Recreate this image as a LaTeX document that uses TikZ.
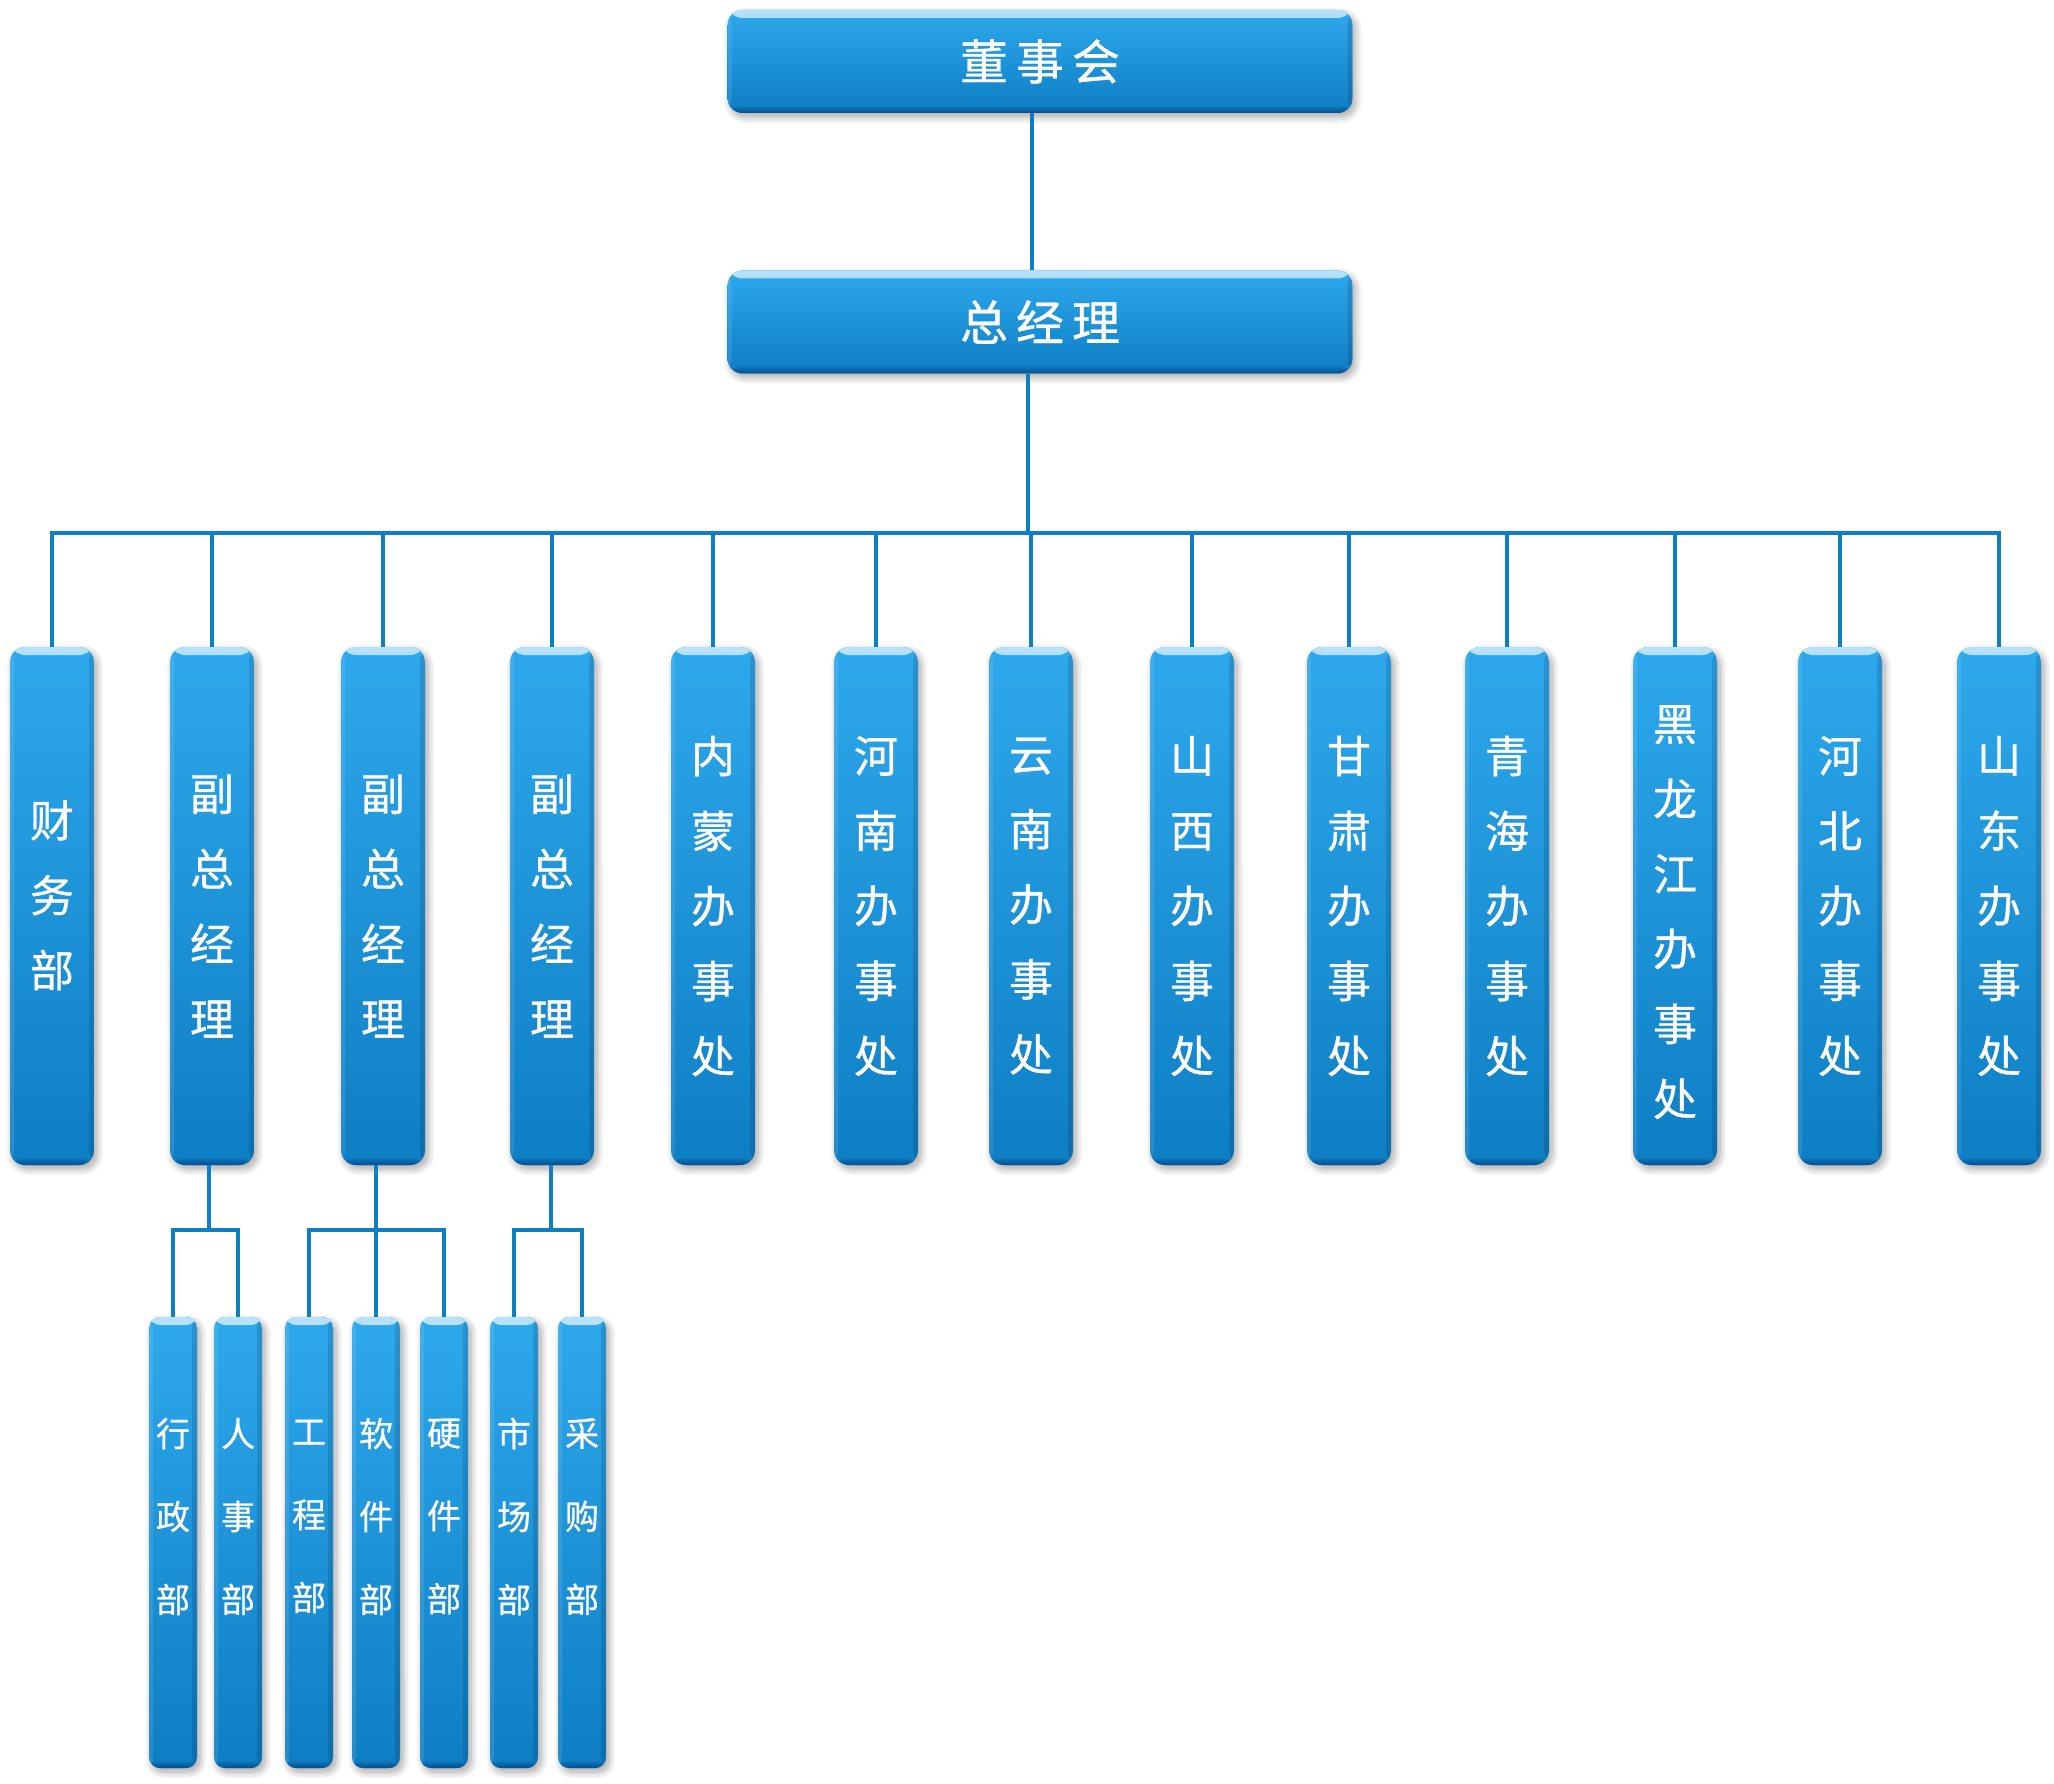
\documentclass[tikz,border=0pt]{standalone}
\usepackage{fontspec}
\newfontfamily\cjk[FakeBold=0.7]{Noto Sans CJK SC}
\usetikzlibrary{shadows.blur}
\definecolor{bodytop}{HTML}{2EA8EC}
\definecolor{bodybot}{HTML}{0E7EC4}
\definecolor{hl}{HTML}{B8E2F9}
\definecolor{edgedark}{HTML}{034E8E}
\definecolor{conncol}{HTML}{0D80C4}
\newcommand\vshift[2]{\raisebox{#1}[\height][\depth]{\begin{tabular}{@{}c@{}}#2\end{tabular}}}
\tikzset{
  bevel/.style={path picture={
    \shade[top color=hl, bottom color=bodytop]
      (path picture bounding box.north west) rectangle ([yshift=-8pt]path picture bounding box.north east);
    \shade[top color=bodybot, bottom color=edgedark]
      ([yshift=8pt]path picture bounding box.south west) rectangle (path picture bounding box.south east);
    \fill[white, opacity=0.10]
      (path picture bounding box.south west) rectangle ([xshift=4pt]path picture bounding box.north west);
    \fill[black, opacity=0.12]
      ([xshift=-5pt]path picture bounding box.south east) rectangle (path picture bounding box.north east);
  }},
  orgbox/.style={rounded corners=15pt, top color=bodytop, bottom color=bodybot,
    draw=none, inner sep=0pt, text=white, align=center,
    blur shadow={shadow xshift=3pt, shadow yshift=-4pt, shadow blur radius=7pt,
      shadow blur steps=10, shadow opacity=35},
    bevel},
  topbox/.style={orgbox, minimum width=625pt, minimum height=103pt,
    font=\cjk\fontsize{48}{58}\selectfont},
  tallbox/.style={orgbox, minimum width=84pt, minimum height=518pt,
    font=\cjk\fontsize{44}{75}\selectfont},
  smallbox/.style={orgbox, rounded corners=11pt, minimum width=48pt, minimum height=451pt},
  smalltext/.style={text=white, align=center, inner sep=0pt,
    font=\cjk\fontsize{34}{83}\selectfont},
  conn/.style={draw=conncol, line width=4.6pt},
}
\begin{document}
\begin{tikzpicture}[x=1pt, y=-1pt]
\useasboundingbox (0,0) rectangle (2054,1784);
% top level
\node[topbox] (dsh) at (1040,61.5) {董\hspace{8pt}事\hspace{8pt}会};
\node[topbox] (zjl) at (1040,322) {总\hspace{8pt}经\hspace{8pt}理};
% second level
\node[tallbox] (t1)  at (52,906)   {\vshift{9pt}{财\\务\\部}};
\node[tallbox] (t2)  at (212,906)  {副\\总\\经\\理};
\node[tallbox] (t3)  at (383,906)  {副\\总\\经\\理};
\node[tallbox] (t4)  at (552,906)  {副\\总\\经\\理};
\node[tallbox] (t5)  at (713,906)  {内\\蒙\\办\\事\\处};
\node[tallbox] (t6)  at (876,906)  {河\\南\\办\\事\\处};
\node[tallbox] (t7)  at (1031,906) {云\\南\\办\\事\\处};
\node[tallbox] (t8)  at (1192,906) {山\\西\\办\\事\\处};
\node[tallbox] (t9)  at (1349,906) {甘\\肃\\办\\事\\处};
\node[tallbox] (t10) at (1507,906) {青\\海\\办\\事\\处};
\node[tallbox] (t11) at (1675,906) {\vshift{-7pt}{黑\\龙\\江\\办\\事\\处}};
\node[tallbox] (t12) at (1840,906) {河\\北\\办\\事\\处};
\node[tallbox] (t13) at (1999,906) {山\\东\\办\\事\\处};
% third level
\node[smallbox] (a1) at (173,1542.5) {};
\node[smallbox] (a2) at (238,1542.5) {};
\node[smallbox] (a3) at (309,1542.5) {};
\node[smallbox] (a4) at (376,1542.5) {};
\node[smallbox] (a5) at (444,1542.5) {};
\node[smallbox] (a6) at (514,1542.5) {};
\node[smallbox] (a7) at (582,1542.5) {};
\node[smalltext] (a1t) at ([yshift=26pt]a1.center) {行\\政\\部};
\node[smalltext] (a2t) at ([yshift=26pt]a2.center) {人\\事\\部};
\node[smalltext] (a3t) at ([yshift=26pt]a3.center) {工\\程\\部};
\node[smalltext] (a4t) at ([yshift=26pt]a4.center) {软\\件\\部};
\node[smalltext] (a5t) at ([yshift=26pt]a5.center) {硬\\件\\部};
\node[smalltext] (a6t) at ([yshift=26pt]a6.center) {市\\场\\部};
\node[smalltext] (a7t) at ([yshift=26pt]a7.center) {采\\购\\部};
% connectors
\coordinate (bus) at (1028,533);
\coordinate (s1) at (209,1230);
\coordinate (s2) at (376,1230);
\coordinate (s3) at (551,1230);
\draw[conn] ([xshift=-8pt]dsh.south) -- ([xshift=-8pt]zjl.north);
\draw[conn] ([xshift=-12pt]zjl.south) -- (bus);
\draw[conn] (t1.north) |- (bus) -| (t13.north);
\foreach \i in {2,...,12} {
  \draw[conn] (t\i.north) -- (t\i.north |- bus);
}
\draw[conn] (s1) -- (s1 |- t2.south);
\draw[conn] (a1.north) |- (s1) -| (a2.north);
\draw[conn] (a4.north) -- (a4.north |- t3.south);
\draw[conn] (a3.north) |- (s2) -| (a5.north);
\draw[conn] (s3) -- (s3 |- t4.south);
\draw[conn] (a6.north) |- (s3) -| (a7.north);
\end{tikzpicture}
\end{document}
